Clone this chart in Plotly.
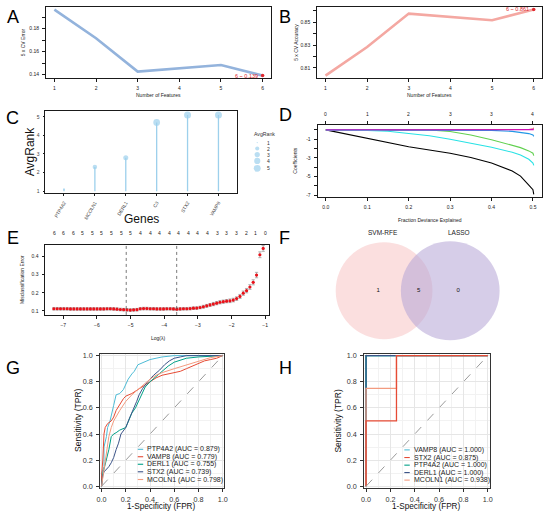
import numpy as np
import plotly.graph_objects as go

W, H = 550, 514
FONT = "Liberation Sans, Arial, sans-serif"

# ---------------- data ----------------
# A / B : SVM-RFE
n_features = [1, 2, 3, 4, 5, 6]
cv_error = [0.1967, 0.1717, 0.1425, 0.1455, 0.1483, 0.1390]
cv_accuracy = [0.8033, 0.8283, 0.8575, 0.8545, 0.8517, 0.8610]

# C : average rank
genes = ["PTP4A2", "MCOLN1", "DERL1", "C3", "STX2", "VAMP8"]
avg_rank = [1.1, 2.3, 2.8, 4.7, 5.1, 5.1]
rank_legend = [1, 2, 3, 4, 5]

# D : lasso coefficient paths
dev_frac = [0, 0.05, 0.1, 0.15, 0.2, 0.25, 0.3, 0.35, 0.4, 0.45, 0.47, 0.49, 0.5, 0.502]
coef_black = [0, -0.45, -0.85, -1.35, -1.8, -2.15, -2.5, -2.95, -3.55, -4.4, -4.95, -5.9, -6.4, -6.9]
coef_red = [0, 0, 0, 0, 0, 0, 0, 0, 0, 0, 0, 0.04, 0.1, 0.22]
coef_green = [0, 0, 0, 0, 0, -0.02, -0.18, -0.55, -1.05, -1.65, -1.9, -2.25, -2.5, -2.75]
coef_blue = [0, 0, 0, 0, 0, 0, 0, -0.02, -0.06, -0.16, -0.25, -0.4, -0.55, -0.7]
coef_cyan = [0, -0.02, -0.06, -0.15, -0.35, -0.63, -1.0, -1.42, -1.87, -2.4, -2.7, -3.15, -3.55, -3.8]
coef_magenta = [0, 0, 0, 0, 0, 0, 0, 0, 0, 0, 0, 0, 0.0, 0.02]
df_ticks = [0, 0.1, 0.2, 0.3, 0.4, 0.5]
df_labels = ["0", "1", "2", "3", "3", "4"]

# E : cv.glmnet misclassification error
cv_mis = [0.112, 0.112, 0.112, 0.112, 0.112, 0.111, 0.111, 0.111, 0.111, 0.111,
          0.111, 0.111, 0.111, 0.111, 0.111, 0.111, 0.112, 0.112, 0.111, 0.110,
          0.108, 0.107, 0.106, 0.105, 0.106, 0.107,
          0.112, 0.113, 0.113, 0.112, 0.112, 0.111, 0.111, 0.111, 0.112, 0.112,
          0.111, 0.110, 0.111, 0.112, 0.112, 0.113, 0.115,
          0.116, 0.119, 0.123, 0.128, 0.133, 0.138, 0.143, 0.148, 0.151, 0.154,
          0.156, 0.160, 0.168, 0.180, 0.198, 0.212, 0.232, 0.258, 0.298, 0.410, 0.445]
cv_sd = [0.007, 0.007, 0.007, 0.007, 0.007, 0.007, 0.007, 0.007, 0.007, 0.007,
         0.007, 0.007, 0.007, 0.007, 0.007, 0.007, 0.007, 0.007, 0.007, 0.007,
         0.007, 0.007, 0.007, 0.007, 0.007, 0.007,
         0.007, 0.007, 0.007, 0.007, 0.007, 0.007, 0.007, 0.007, 0.007, 0.007,
         0.007, 0.007, 0.007, 0.007, 0.007, 0.007, 0.007,
         0.007, 0.007, 0.008, 0.008, 0.008, 0.009, 0.009, 0.009, 0.009, 0.009,
         0.010, 0.010, 0.010, 0.011, 0.012, 0.012, 0.013, 0.014, 0.015, 0.016, 0.016]
log_lambda = np.linspace(-7.28, -1.06, len(cv_mis))
lambda_min, lambda_1se = -5.13, -3.63
nz_pos = [-7.27, -6.99, -6.70, -6.42, -6.13, -5.85, -5.56, -5.28, -4.99, -4.71, -4.42, -4.14,
          -3.85, -3.57, -3.28, -3.00, -2.71, -2.43, -2.14, -1.86, -1.57, -1.29, -1.00]
nz_labels = ["6", "6", "6", "5", "5", "5", "5", "5", "5", "4", "4", "4",
             "4", "4", "4", "4", "4", "3", "3", "3", "2", "1", "0"]

# F : venn
venn_sets = ["SVM-RFE", "LASSO"]
venn_counts = [1, 5, 0]

# G : ROC, training set
g_names = ["PTP4A2", "VAMP8", "DERL1", "STX2", "MCOLN1"]
g_auc = [0.879, 0.779, 0.755, 0.739, 0.798]
g_fpr = [
    [0, 0, 0.02, 0.02, 0.04, 0.05, 0.07, 0.08, 0.1, 0.12, 0.15, 0.18, 0.2, 0.22, 0.25, 0.27, 0.3, 0.35, 0.4, 0.45, 0.5, 0.6, 0.7, 0.8, 1.0],
    [0, 0, 0.01, 0.02, 0.03, 0.05, 0.08, 0.1, 0.12, 0.15, 0.18, 0.2, 0.25, 0.3, 0.35, 0.4, 0.45, 0.5, 0.55, 0.6, 0.65, 0.7, 0.75, 0.8, 0.85, 0.9, 0.95, 1.0],
    [0, 0.01, 0.02, 0.04, 0.06, 0.08, 0.1, 0.12, 0.15, 0.2, 0.22, 0.25, 0.28, 0.3, 0.33, 0.36, 0.4, 0.45, 0.5, 0.55, 0.6, 0.7, 0.8, 1.0],
    [0, 0.01, 0.02, 0.04, 0.06, 0.08, 0.1, 0.12, 0.14, 0.16, 0.18, 0.2, 0.23, 0.26, 0.29, 0.31, 0.34, 0.38, 0.43, 0.48, 0.52, 0.56, 0.6, 0.65, 0.7, 0.8, 1.0],
    [0, 0.02, 0.04, 0.06, 0.08, 0.1, 0.15, 0.2, 0.25, 0.3, 0.35, 0.4, 0.45, 0.5, 0.6, 0.7, 0.8, 0.9, 1.0],
]
g_tpr = [
    [0, 0.1, 0.15, 0.3, 0.38, 0.45, 0.5, 0.55, 0.62, 0.7, 0.71, 0.74, 0.78, 0.82, 0.86, 0.88, 0.93, 0.95, 0.97, 0.98, 0.99, 1.0, 1.0, 1.0, 1.0],
    [0, 0.08, 0.2, 0.4, 0.45, 0.48, 0.5, 0.53, 0.58, 0.63, 0.67, 0.69, 0.71, 0.74, 0.77, 0.8, 0.83, 0.85, 0.86, 0.87, 0.88, 0.9, 0.92, 0.94, 0.96, 0.97, 0.98, 1.0],
    [0, 0.1, 0.13, 0.2, 0.28, 0.38, 0.4, 0.41, 0.43, 0.45, 0.5, 0.56, 0.6, 0.64, 0.7, 0.76, 0.8, 0.84, 0.88, 0.92, 0.95, 0.98, 0.99, 1.0],
    [0, 0.08, 0.11, 0.13, 0.15, 0.18, 0.22, 0.28, 0.33, 0.4, 0.43, 0.45, 0.52, 0.58, 0.65, 0.7, 0.75, 0.8, 0.85, 0.89, 0.93, 0.96, 0.98, 0.99, 1.0, 1.0, 1.0],
    [0, 0.12, 0.25, 0.38, 0.45, 0.5, 0.58, 0.65, 0.7, 0.74, 0.78, 0.82, 0.85, 0.87, 0.9, 0.93, 0.96, 0.985, 1.0],
]

# H : ROC, validation set
h_names = ["VAMP8", "STX2", "PTP4A2", "DERL1", "MCOLN1"]
h_auc = [1.000, 0.875, 1.000, 1.000, 0.938]
h_fpr = [[0, 0, 1], [0, 0, 0.25, 0.25, 1], [0, 0, 1], [0, 0, 1], [0, 0, 0.25, 0.25, 1]]
h_tpr = [[0, 1, 1], [0, 0.5, 0.5, 1, 1], [0, 1, 1], [0, 1, 1], [0, 0.75, 0.75, 1, 1]]
h_draw_order = [0, 2, 3, 4, 1]

roc_colors = ["#4DBBD5", "#E64B35", "#00A087", "#3C5488", "#F39B7F"]


# ---------------- helpers ----------------
def dom(l, t, r, b):
    return [l / W, r / W], [1 - b / H, 1 - t / H]


def py(v):
    return 1 - v / H


def px(v):
    return v / W


def rank_size(v):
    return 1.2 + 5.8 * np.sqrt(max(v - 1, 0) / 4.1)


annotations = []
shapes = []


def note(text, x, y, size=5, color="#1a1a1a", xanchor="center", angle=0, xref="paper", yref="paper"):
    annotations.append(dict(text=text, x=x, y=y, xref=xref, yref=yref, showarrow=False,
                            xanchor=xanchor, yanchor="middle", textangle=angle,
                            font=dict(size=size, color=color, family=FONT)))


fig = go.Figure()

# ---- A ----
fig.add_trace(go.Scatter(x=n_features, y=cv_error, mode="lines",
                         line=dict(color="#93B3DC", width=2.6), xaxis="x", yaxis="y"))
ia = int(np.argmin(cv_error))
fig.add_trace(go.Scatter(x=[n_features[ia]], y=[cv_error[ia]], mode="markers",
                         marker=dict(color="#E0282E", size=3.5), xaxis="x", yaxis="y"))
note(f"{n_features[ia]} ~ {cv_error[ia]:.3f}", n_features[ia] - 0.06, cv_error[ia], size=5.5,
     color="#E0282E", xanchor="right", xref="x", yref="y")

# ---- B ----
fig.add_trace(go.Scatter(x=n_features, y=cv_accuracy, mode="lines",
                         line=dict(color="#F4A8A2", width=2.6), xaxis="x2", yaxis="y2"))
ib = int(np.argmax(cv_accuracy))
fig.add_trace(go.Scatter(x=[n_features[ib]], y=[cv_accuracy[ib]], mode="markers",
                         marker=dict(color="#E0282E", size=3.5), xaxis="x2", yaxis="y2"))
note(f"{n_features[ib]} ~ {cv_accuracy[ib]:.3f}", n_features[ib] - 0.06, cv_accuracy[ib] + 0.0008,
     size=5.5, color="#E0282E", xanchor="right", xref="x2", yref="y2")

# ---- C ----
stem_x, stem_y = [], []
for g, v in zip(genes, avg_rank):
    stem_x += [g, g, None]
    stem_y += [1, v, None]
fig.add_trace(go.Scatter(x=stem_x, y=stem_y, mode="lines", line=dict(color="#9DD0EC", width=1.3),
                         xaxis="x3", yaxis="y3"))
fig.add_trace(go.Scatter(x=genes, y=avg_rank, mode="markers",
                         marker=dict(color="#9DD0EC", size=[rank_size(v) for v in avg_rank], line=dict(width=0)),
                         xaxis="x3", yaxis="y3"))
# size legend
leg_rows = [142, 148, 154, 160.5, 168]
fig.add_trace(go.Scatter(x=[257.5] * len(rank_legend), y=leg_rows, mode="markers",
                         marker=dict(color="#9DD0EC", size=[rank_size(v) for v in rank_legend], line=dict(width=0)),
                         xaxis="x9", yaxis="y9"))
note("AvgRank", px(252), py(133), size=5.2, color="#333", xanchor="left")
for v, r in zip(rank_legend, leg_rows):
    note(str(v), px(265), py(r), size=5, color="#333", xanchor="left")

# ---- D ----
for ys, c in [(coef_black, "#000000"), (coef_red, "#DF536B"), (coef_green, "#61D04F"),
              (coef_blue, "#2297E6"), (coef_cyan, "#28E2E5"), (coef_magenta, "#CD0BBC")]:
    fig.add_trace(go.Scatter(x=dev_frac, y=ys, mode="lines", line=dict(color=c, width=1.1),
                             xaxis="x4", yaxis="y4"))
for t, lab in zip(df_ticks, df_labels):
    note(lab, t, py(113), size=5, xref="x4")

# ---- E ----
fig.add_trace(go.Scatter(x=log_lambda, y=cv_mis, mode="markers",
                         marker=dict(color="#E8121A", size=3.2),
                         error_y=dict(type="data", array=cv_sd, color="#A0A0A0", thickness=0.8, width=1.6),
                         xaxis="x5", yaxis="y5"))
for lv in (lambda_min, lambda_1se):
    shapes.append(dict(type="line", xref="x5", yref="y5 domain", x0=lv, x1=lv, y0=0, y1=1,
                       line=dict(color="#555", width=0.8, dash="dot")))
for p, lab in zip(nz_pos, nz_labels):
    note(lab, p, py(233), size=5, xref="x5")

# ---- F ----
venn_circles = [(386, 291.5, 49, "rgba(248,196,196,0.55)"), (453, 291.5, 50, "rgba(180,164,214,0.55)")]
for cx, cy, r, col in venn_circles:
    shapes.append(dict(type="circle", xref="x6", yref="y6", x0=cx - r, x1=cx + r, y0=cy - r, y1=cy + r,
                       fillcolor=col, line=dict(width=0), layer="below"))
fig.add_trace(go.Scatter(x=[380, 421, 461], y=[291, 291, 291], mode="text",
                         text=[str(c) for c in venn_counts],
                         textfont=dict(size=6, color="#111", family=FONT), xaxis="x6", yaxis="y6"))
note(venn_sets[0], px(385), py(233), size=6.5, color="#222")
note(venn_sets[1], px(462), py(233), size=6.5, color="#222")

# ---- G ----
for i in range(len(g_names)):
    fig.add_trace(go.Scatter(x=g_fpr[i], y=g_tpr[i], mode="lines",
                             line=dict(color=roc_colors[i], width=1.0), xaxis="x7", yaxis="y7"))
g_rows = [451.7, 459.2, 466.8, 474.4, 482.2]
for i, r in enumerate(g_rows):
    shapes.append(dict(type="line", xref="paper", yref="paper", x0=px(136.5), x1=px(142),
                       y0=py(r), y1=py(r), line=dict(color=roc_colors[i], width=1.1)))
    note(f"{g_names[i]} (AUC = {g_auc[i]:.3f})", px(144), py(r), size=7, color="#222", xanchor="left")

# ---- H ----
for i in h_draw_order:
    fig.add_trace(go.Scatter(x=h_fpr[i], y=h_tpr[i], mode="lines",
                             line=dict(color=roc_colors[i], width=1.3), xaxis="x8", yaxis="y8"))
h_rows = [452.3, 460, 467.7, 475.2, 482.8]
for i, r in enumerate(h_rows):
    shapes.append(dict(type="line", xref="paper", yref="paper", x0=px(406.5), x1=px(412),
                       y0=py(r), y1=py(r), line=dict(color=roc_colors[i], width=1.1)))
    note(f"{h_names[i]} (AUC = {h_auc[i]:.3f})", px(414.5), py(r), size=7, color="#222", xanchor="left")

for xr, yr in (("x7", "y7"), ("x8", "y8")):
    shapes.append(dict(type="line", xref=xr, yref=yr, x0=0, y0=0, x1=1, y1=1,
                       line=dict(color="#9A9A9A", width=1, dash="dash")))

# ---------------- axes ----------------
rbase = dict(showline=True, linecolor="#1a1a1a", linewidth=0.9, mirror=True, ticks="outside",
             ticklen=3, tickwidth=0.7, tickcolor="#1a1a1a", tickfont=dict(size=5, color="#1a1a1a", family=FONT),
             showgrid=False, zeroline=False, ticklabelstandoff=2)

roc_ticks = [0, 0.2, 0.4, 0.6, 0.8, 1.0]
gg = dict(showline=True, linecolor="#333", linewidth=1.3, mirror=True, ticks="outside", ticklen=2.5,
          tickwidth=0.8, tickcolor="#333", tickfont=dict(size=7.2, color="#333", family=FONT),
          tickvals=roc_ticks, ticktext=[f"{t:.1f}" for t in roc_ticks],
          showgrid=True, gridcolor="#E6E6E6", gridwidth=0.6, zeroline=False,
          minor=dict(tickvals=[0.1, 0.3, 0.5, 0.7, 0.9], showgrid=True, gridcolor="#F2F2F2", gridwidth=0.5),
          ticklabelstandoff=2)

dA, dB = dom(43.6, 5, 271.4, 77), dom(318.2, 5, 546, 77)
dC, dD = dom(43, 110, 237, 193), dom(318.6, 124, 546, 197)
dE, dF = dom(43, 245, 269, 316), dom(275, 225, 550, 350)
dG, dH = dom(98, 355, 224, 491), dom(365.5, 355, 493, 491)
dL = dom(245, 130, 280, 175)

layout_axes = dict(
    xaxis=dict(rbase, domain=dA[0], anchor="y", range=[0.8, 6.2], tickvals=n_features),
    yaxis=dict(rbase, domain=dA[1], anchor="x", range=[0.1367, 0.199],
               tickvals=[0.14, 0.15, 0.16, 0.17, 0.18, 0.19], ticktext=["0.14", "", "0.16", "", "0.18", ""]),
    xaxis2=dict(rbase, domain=dB[0], anchor="y2", range=[0.8, 6.2], tickvals=n_features),
    yaxis2=dict(rbase, domain=dB[1], anchor="x2", range=[0.801, 0.8633],
                tickvals=[0.81, 0.82, 0.83, 0.84, 0.85, 0.86], ticktext=["0.81", "", "0.83", "", "0.85", ""]),
    xaxis3=dict(rbase, domain=dC[0], anchor="y3", type="category", range=[-0.6, 5.6], tickangle=-60,
                tickfont=dict(size=4.8, color="#444", family=FONT), ticklen=2),
    yaxis3=dict(rbase, domain=dC[1], anchor="x3", range=[0.893, 5.32], tickvals=[1, 2, 3, 4, 5],
                tickfont=dict(size=5, color="#444", family=FONT), ticklen=2),
    xaxis4=dict(rbase, domain=dD[0], anchor="y4", range=[-0.02, 0.522], mirror="ticks",
                tickvals=df_ticks, ticktext=[f"{t:.1f}" for t in df_ticks]),
    yaxis4=dict(rbase, domain=dD[1], anchor="x4", range=[-7.19, 0.54], tickvals=[-7, -6, -5, -4, -3, -2, -1, 0],
                ticktext=["-7", "", "-5", "", "-3", "", "-1", ""]),
    xaxis5=dict(rbase, domain=dE[0], anchor="y5", range=[-7.53, -0.9], tickvals=[-7, -6, -5, -4, -3, -2, -1]),
    yaxis5=dict(rbase, domain=dE[1], anchor="x5", range=[0.078, 0.466], tickvals=[0.1, 0.2, 0.3, 0.4]),
    xaxis6=dict(domain=dF[0], anchor="y6", range=[275, 550], visible=False),
    yaxis6=dict(domain=dF[1], anchor="x6", range=[350, 225], visible=False),
    xaxis7=dict(gg, domain=dG[0], anchor="y7", range=[-0.015, 1.012], ticklabelstandoff=1),
    yaxis7=dict(gg, domain=dG[1], anchor="x7", range=[-0.015, 1.016]),
    xaxis8=dict(gg, domain=dH[0], anchor="y8", range=[-0.018, 1.016], ticklabelstandoff=1),
    yaxis8=dict(gg, domain=dH[1], anchor="x8", range=[-0.015, 1.016]),
    xaxis9=dict(domain=dL[0], anchor="y9", range=[245, 280], visible=False),
    yaxis9=dict(domain=dL[1], anchor="x9", range=[175, 130], visible=False),
)

# axis titles
note("Number of Features", px(157), py(94))
note("5 x CV Error", px(20), py(41), angle=-90)
note("Number of Features", px(432), py(94))
note("5 x CV Accuracy", px(296), py(41), angle=-90)
note("AvgRank", px(27), py(151), size=12, color="#111", angle=-90)
note("Genes", px(140), py(219), size=12, color="#111")
note("Fraction Deviance Explained", px(432), py(220))
note("Coefficients", px(296), py(160), angle=-90)
note("Log(λ)", px(157), py(339))
note("Misclassification Error", px(20), py(280), angle=-90)
note("Sensitivity (TPR)", px(76), py(423), size=8.5, color="#111", angle=-90)
note("1-Specificity (FPR)", px(161), py(509.2), size=8.2, color="#111")
note("Sensitivity (TPR)", px(339), py(423), size=8.5, color="#111", angle=-90)
note("1-Specificity (FPR)", px(429), py(509.2), size=8.2, color="#111")

# panel letters
for lab, x, y in [("A", 10, 15), ("B", 286, 15), ("C", 10, 117), ("D", 286, 114),
                  ("E", 10, 238), ("F", 285, 238), ("G", 10, 370), ("H", 286, 370)]:
    note(lab, px(x), py(y), size=18, color="#000")

fig.update_layout(
    width=W, height=H, margin=dict(l=0, r=0, t=0, b=0),
    paper_bgcolor="white", plot_bgcolor="white", showlegend=False,
    font=dict(family=FONT), annotations=annotations, shapes=shapes,
    **layout_axes,
)

# page body has a default 8px margin; drop it so the figure fills the window
fig.write_html("out.html", config={"displayModeBar": False},
               post_script="document.body.style.margin='0px';")
